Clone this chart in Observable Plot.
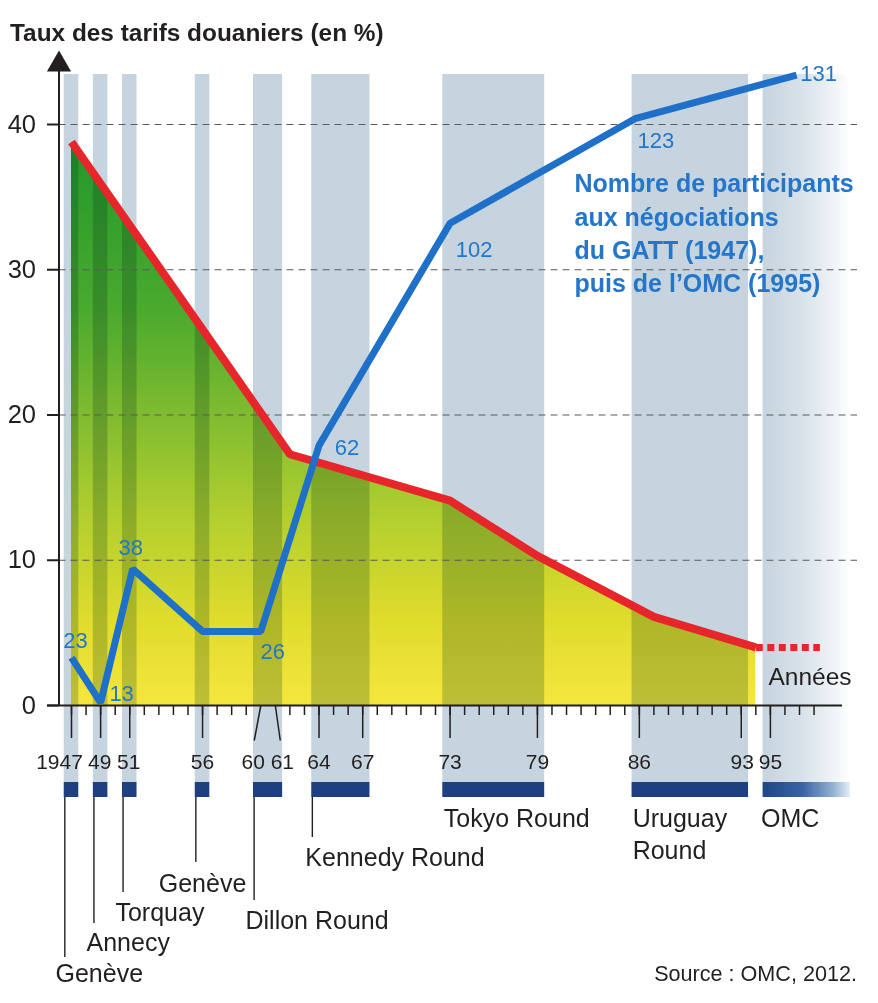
<!DOCTYPE html>
<html>
<head>
<meta charset="utf-8">
<script src="https://cdn.jsdelivr.net/npm/d3@7"></script>
<script src="https://cdn.jsdelivr.net/npm/@observablehq/plot@0.6"></script>
<style>
  body { margin: 0; background: #fff; font-family: "Liberation Sans", Arial, sans-serif; }
  #wrap { position: relative; width: 878px; height: 1003px; overflow: hidden; }
  #title { height: 45px; box-sizing: border-box; padding: 21px 0 0 10px; font-size: 24.4px; line-height: 24px;
           font-weight: bold; color: #231f20; white-space: nowrap; }
  #chart svg { display: block; }
  #source { position: absolute; right: 21px; top: 963px; font-size: 21.6px; line-height: 22px; color: #231f20; white-space: nowrap; }
</style>
</head>
<body>
<div id="wrap">
  <div id="title">Taux des tarifs douaniers (en %)</div>
  <div id="chart"></div>
  <div id="source">Source : OMC, 2012.</div>
</div>
<script>
// ---------------- data ----------------
const tariffYears = [1947, 1962, 1973, 1979, 1987, 1994];
const tariffRates = [38.8, 17.3, 14.1, 10.3, 6.1, 4.0];
const tariffProjYears = [1994, 1998.4];
const tariffProjRates = [4.0, 4.0];

const partYears  = [1947, 1949, 1951.2, 1956, 1960, 1964, 1973, 1985.7, 1996.8];
const partLevels = [3.3, 0.2, 9.4, 5.1, 5.1, 17.9, 33.2, 40.4, 43.4];
const partCounts = ["23", "13", "38", "", "26", "62", "102", "123", "131"];

const roundNames = ["Genève", "Annecy", "Torquay", "Genève", "Dillon Round", "Kennedy Round", "Tokyo Round", "Uruguay\nRound", "OMC"];
const roundStart = [1947, 1949, 1951, 1956, 1960, 1964, 1973, 1986, 1995];
const roundEnd   = [1947, 1949, 1951, 1956, 1961, 1967, 1979, 1993, 2000];

const yTicks = [0, 10, 20, 30, 40];
const xTickYears  = [1947, 1949, 1951, 1956, 1960, 1961, 1964, 1967, 1973, 1979, 1986, 1993, 1995];
const xTickLabels = ["1947", "49", "51", "56", "60", "61", "64", "67", "73", "79", "86", "93", "95"];

const captionLines = ["Nombre de participants", "aux négociations", "du GATT (1947),", "puis de l’OMC (1995)"];

// ---------------- layout (page pixels -> data units) ----------------
const W = 878, TITLE_H = 45, H = 1003 - TITLE_H;
const X0_PX = 71, PX_PER_YEAR = 14.56, Y0_PX = 705, PX_PER_PCT = 14.525;
const xVal = px => 1947 + (px - X0_PX) / PX_PER_YEAR;
const yVal = py => (Y0_PX - py) / PX_PER_PCT;
const xPx = yr => X0_PX + (yr - 1947) * PX_PER_YEAR;
const midY = (baseline, fs) => yVal(baseline - 0.32 * fs);  // text y for a given baseline

const BAND_TOP = yVal(74), BAND_BOT = yVal(782), BAR_BOT = yVal(797);
const AXIS_X = xVal(58.5);
const INK = "#231f20", BLUE = "#1f70c8", BLUE_TXT = "#2476ca", RED = "#e6262b";
const BAND = "#c6d4df";

// tick label horizontal nudges (px) and angled tick shifts (years)
const tickLabelDx = [-12, -1, -1, 0, -7.5, 7, 0, 0, 0, 0, 0, 1, 0];
const angledShift = {1960: -0.45, 1961: 0.34};
// participant label offsets (px)
const partDx = [4, 21, -2, 0, 12, 28, 24, 21, 22];
const partDy = [-17, -9, -21, 0, 21, 2, 27, 22, -1];
// round label layout: dx from band left edge (px), baselines (page px), leader end (page px, null = none)
const roundLabelDx = [-8.7, -6.8, -7, -36.5, -8, -6.4, 1, 0.6, -2];
const roundBaselines = [981.7, 950.7, 920.7, 891.7, 928.3, 865, 826.7, 826.7, 826];
const roundLineGap = 31.6;
const roundLeaderEnd = [957, 923, 892, 862, 900, 837, null, null, null];
const captionBaselines = [191.7, 225, 258, 291];

// ---------------- derived tables ----------------
const tariff = tariffYears.map((year, i) => ({year, rate: tariffRates[i]}));
const tariffProj = tariffProjYears.map((year, i) => ({year, rate: tariffProjRates[i]}));
const part = partYears.map((year, i) => ({year, level: partLevels[i], count: partCounts[i], dx: partDx[i], dy: partDy[i]}));
const rounds = roundNames.map((name, i) => ({name, start: roundStart[i], end: roundEnd[i], i}));
const regularRounds = rounds.filter(d => d.name !== "OMC");
const omcRound = rounds.filter(d => d.name === "OMC");
const roundLabelRows = rounds.flatMap(d => d.name.split("\n").map((line, k) => ({
  text: line,
  x: xVal(xPx(d.start - 0.5) + roundLabelDx[d.i]),
  y: midY(roundBaselines[d.i] + k * roundLineGap, 25)
})));
const leaders = rounds.filter(d => roundLeaderEnd[d.i] != null).map(d => ({
  x: xVal(xPx(d.start - 0.5) + 0.6), y2: yVal(roundLeaderEnd[d.i])
}));
const xTicks = xTickYears.map((year, i) => ({year, label: xTickLabels[i], dx: tickLabelDx[i]}));
const straightMajor = xTicks.filter(d => !(d.year in angledShift));
const angledMajor = xTicks.filter(d => d.year in angledShift);
const minorYears = d3.range(1947, 1999).filter(y => !(y in angledShift));

// ---------------- gradients ----------------
const defs = () => {
  const s = d3.create("svg:defs");
  const addGrad = (id, vertical, stops) => {
    const g = s.append("linearGradient").attr("id", id)
      .attr("x1", 0).attr("y1", 0).attr("x2", vertical ? 0 : 1).attr("y2", vertical ? 1 : 0);
    stops.forEach(([o, c]) => g.append("stop").attr("offset", o).attr("stop-color", c));
  };
  addGrad("tariffGrad", true, [[0, "#22982c"], [0.3, "#4aaa2e"], [0.5, "#84bd30"], [0.68, "#b6d02e"], [0.85, "#e0dc2c"], [1, "#f5e63e"]]);
  addGrad("omcBand", false, [[0, BAND], [0.45, "#d8e2ea"], [0.8, "#eef3f6"], [1, "#ffffff"]]);
  addGrad("omcBar", false, [[0, "#1f4685"], [0.45, "#3863a2"], [0.8, "#90b0d2"], [1, "#e6eef6"]]);
  return s.node();
};

const chart = Plot.plot({
  width: W, height: H, margin: 0,
  x: {domain: [xVal(0), xVal(W)], axis: null},
  y: {domain: [yVal(TITLE_H + H), yVal(TITLE_H)], axis: null},
  style: {fontFamily: "'Liberation Sans', Arial, sans-serif", color: INK, background: "white"},
  marks: [
    defs,
    // tariff area
    Plot.areaY(tariff, {x: "year", y: "rate", fill: "url(#tariffGrad)"}),
    // negotiation round bands
    Plot.rect(regularRounds, {x1: d => d.start - 0.5, x2: d => d.end + 0.5, y1: BAND_BOT, y2: BAND_TOP,
      fill: BAND, mixBlendMode: "multiply"}),
    Plot.rect(omcRound, {x1: d => d.start - 0.5, x2: d => d.end + 0.5, y1: BAND_BOT, y2: BAND_TOP,
      fill: "url(#omcBand)", mixBlendMode: "multiply"}),
    // grid
    Plot.ruleY(yTicks.filter(v => v > 0), {x1: AXIS_X, x2: xVal(857), stroke: "#5a5a5a", strokeWidth: 1.1, strokeDasharray: "7,5"}),
    // round bars under the axis
    Plot.rect(regularRounds, {x1: d => d.start - 0.5, x2: d => d.end + 0.5, y1: BAR_BOT, y2: BAND_BOT, fill: "#1f4080"}),
    Plot.rect(omcRound, {x1: d => d.start - 0.5, x2: d => d.end + 0.5, y1: BAR_BOT, y2: BAND_BOT, fill: "url(#omcBar)"}),
    // leader lines
    Plot.ruleX(leaders, {x: "x", y1: BAR_BOT, y2: "y2", stroke: INK, strokeWidth: 1.4}),
    // x ticks
    Plot.ruleX(minorYears, {y1: 0, y2: yVal(715), stroke: INK, strokeWidth: 1.5}),
    Plot.ruleX(straightMajor, {x: "year", y1: 0, y2: yVal(738), stroke: INK, strokeWidth: 1.5}),
    Plot.link(angledMajor, {x1: "year", y1: 0, x2: d => d.year + angledShift[d.year], y2: yVal(740), stroke: INK, strokeWidth: 1.5}),
    Plot.text(xTicks, {x: d => xVal(xPx(d.year) + d.dx), y: yVal(762), text: "label", fontSize: 21, fill: INK}),
    // axes
    Plot.ruleY([0], {x1: xVal(47), x2: xVal(842), stroke: INK, strokeWidth: 2}),
    Plot.ruleX([AXIS_X], {y1: 0, y2: yVal(62), stroke: INK, strokeWidth: 2}),
    Plot.dot([0], {x: AXIS_X, y: yVal(64), symbol: "triangle", r: 9, fill: INK}),
    Plot.ruleY(yTicks, {x1: xVal(47), x2: AXIS_X, stroke: INK, strokeWidth: 2}),
    Plot.text(yTicks, {x: xVal(35.5), y: d => d, text: d => String(d), textAnchor: "end", fontSize: 25.5, fill: INK}),
    // tariff line
    Plot.line(tariff, {x: "year", y: "rate", stroke: RED, strokeWidth: 8, strokeLinejoin: "miter", strokeLinecap: "butt"}),
    Plot.line(tariffProj, {x: "year", y: "rate", stroke: RED, strokeWidth: 7, strokeDasharray: "7,4.5", strokeLinecap: "butt"}),
    // participants line
    Plot.line(part, {x: "year", y: "level", stroke: BLUE, strokeWidth: 7, strokeLinejoin: "miter", strokeLinecap: "butt"}),
    Plot.text(part.filter(d => d.count), {x: d => xVal(xPx(d.year) + d.dx), y: d => d.level - d.dy / PX_PER_PCT,
      text: "count", fontSize: 22, fill: BLUE_TXT}),
    Plot.text(captionLines, {x: xVal(574), y: (d, i) => midY(captionBaselines[i], 25), text: d => d, textAnchor: "start",
      fontSize: 25, fontWeight: "bold", fill: BLUE_TXT}),
    // labels
    Plot.text(["Années"], {x: xVal(768), y: midY(684, 24.5), text: d => d, textAnchor: "start", fontSize: 24.5, fill: INK}),
    Plot.text(roundLabelRows, {x: "x", y: "y", text: "text", textAnchor: "start", fontSize: 25, fill: INK})
  ]
});

document.getElementById("chart").append(chart);
</script>
</body>
</html>
